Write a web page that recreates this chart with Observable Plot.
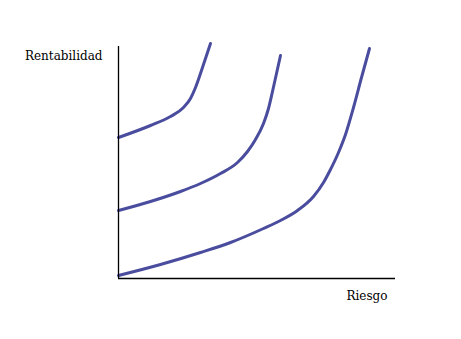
<!DOCTYPE html>
<html>
<head>
<meta charset="utf-8">
<script src="https://cdn.jsdelivr.net/npm/d3@7"></script>
<script src="https://cdn.jsdelivr.net/npm/@observablehq/plot@0.6"></script>
<style>
  html, body { margin: 0; padding: 0; background: #fff; }
</style>
</head>
<body>
<div id="chart"></div>
<script>
// Curve data (risk vs return)
const curve1X = [0, 32, 52, 65, 72, 77, 82, 87, 92];
const curve1Y = [141, 153, 162, 171, 180, 191, 205, 220, 235];
const curve2X = [0, 32, 62, 82, 102, 119, 129, 137, 145, 150, 154, 158, 162];
const curve2Y = [68, 77, 87, 95, 105, 116, 127, 139, 155, 170, 187, 205, 223];
const curve3X = [0, 42, 82, 112, 145, 162, 179, 195, 205, 212, 220, 227, 235, 243, 251];
const curve3Y = [3, 14, 26, 36, 50, 58, 68, 82, 96, 109, 126, 144, 171, 201, 230];
const xLabel = "Riesgo";
const yLabel = "Rentabilidad";

const data = [];
[[curve1X, curve1Y, "a"], [curve2X, curve2Y, "b"], [curve3X, curve3Y, "c"]].forEach(([xs, ys, k]) => {
  xs.forEach((x, i) => data.push({x, y: ys[i], k}));
});

const serif = "'DejaVu Serif', serif";
const chart = Plot.plot({
  width: 461,
  height: 339,
  marginLeft: 118,
  marginRight: 66,
  marginTop: 46,
  marginBottom: 61,
  x: {domain: [0, 277], axis: null},
  y: {domain: [0, 232], axis: null},
  style: {fontFamily: serif, background: "#fff"},
  marks: [
    Plot.line(data, {x: "x", y: "y", z: "k", stroke: "#4a4c9e", strokeWidth: 3, curve: "monotone-x"}),
    Plot.ruleX([0], {stroke: "#000", strokeWidth: 1.3}),
    Plot.ruleY([0], {stroke: "#000", strokeWidth: 1.3}),
    Plot.text([yLabel], {frameAnchor: "top-left", text: d => d, textAnchor: "end", dx: -16, dy: 5, fontSize: 12, fill: "#000", fontFamily: serif}),
    Plot.text([xLabel], {frameAnchor: "bottom-right", text: d => d, textAnchor: "end", dx: -8, dy: 21, fontSize: 12, fill: "#000", fontFamily: serif})
  ]
});
document.getElementById("chart").appendChild(chart);
</script>
</body>
</html>
